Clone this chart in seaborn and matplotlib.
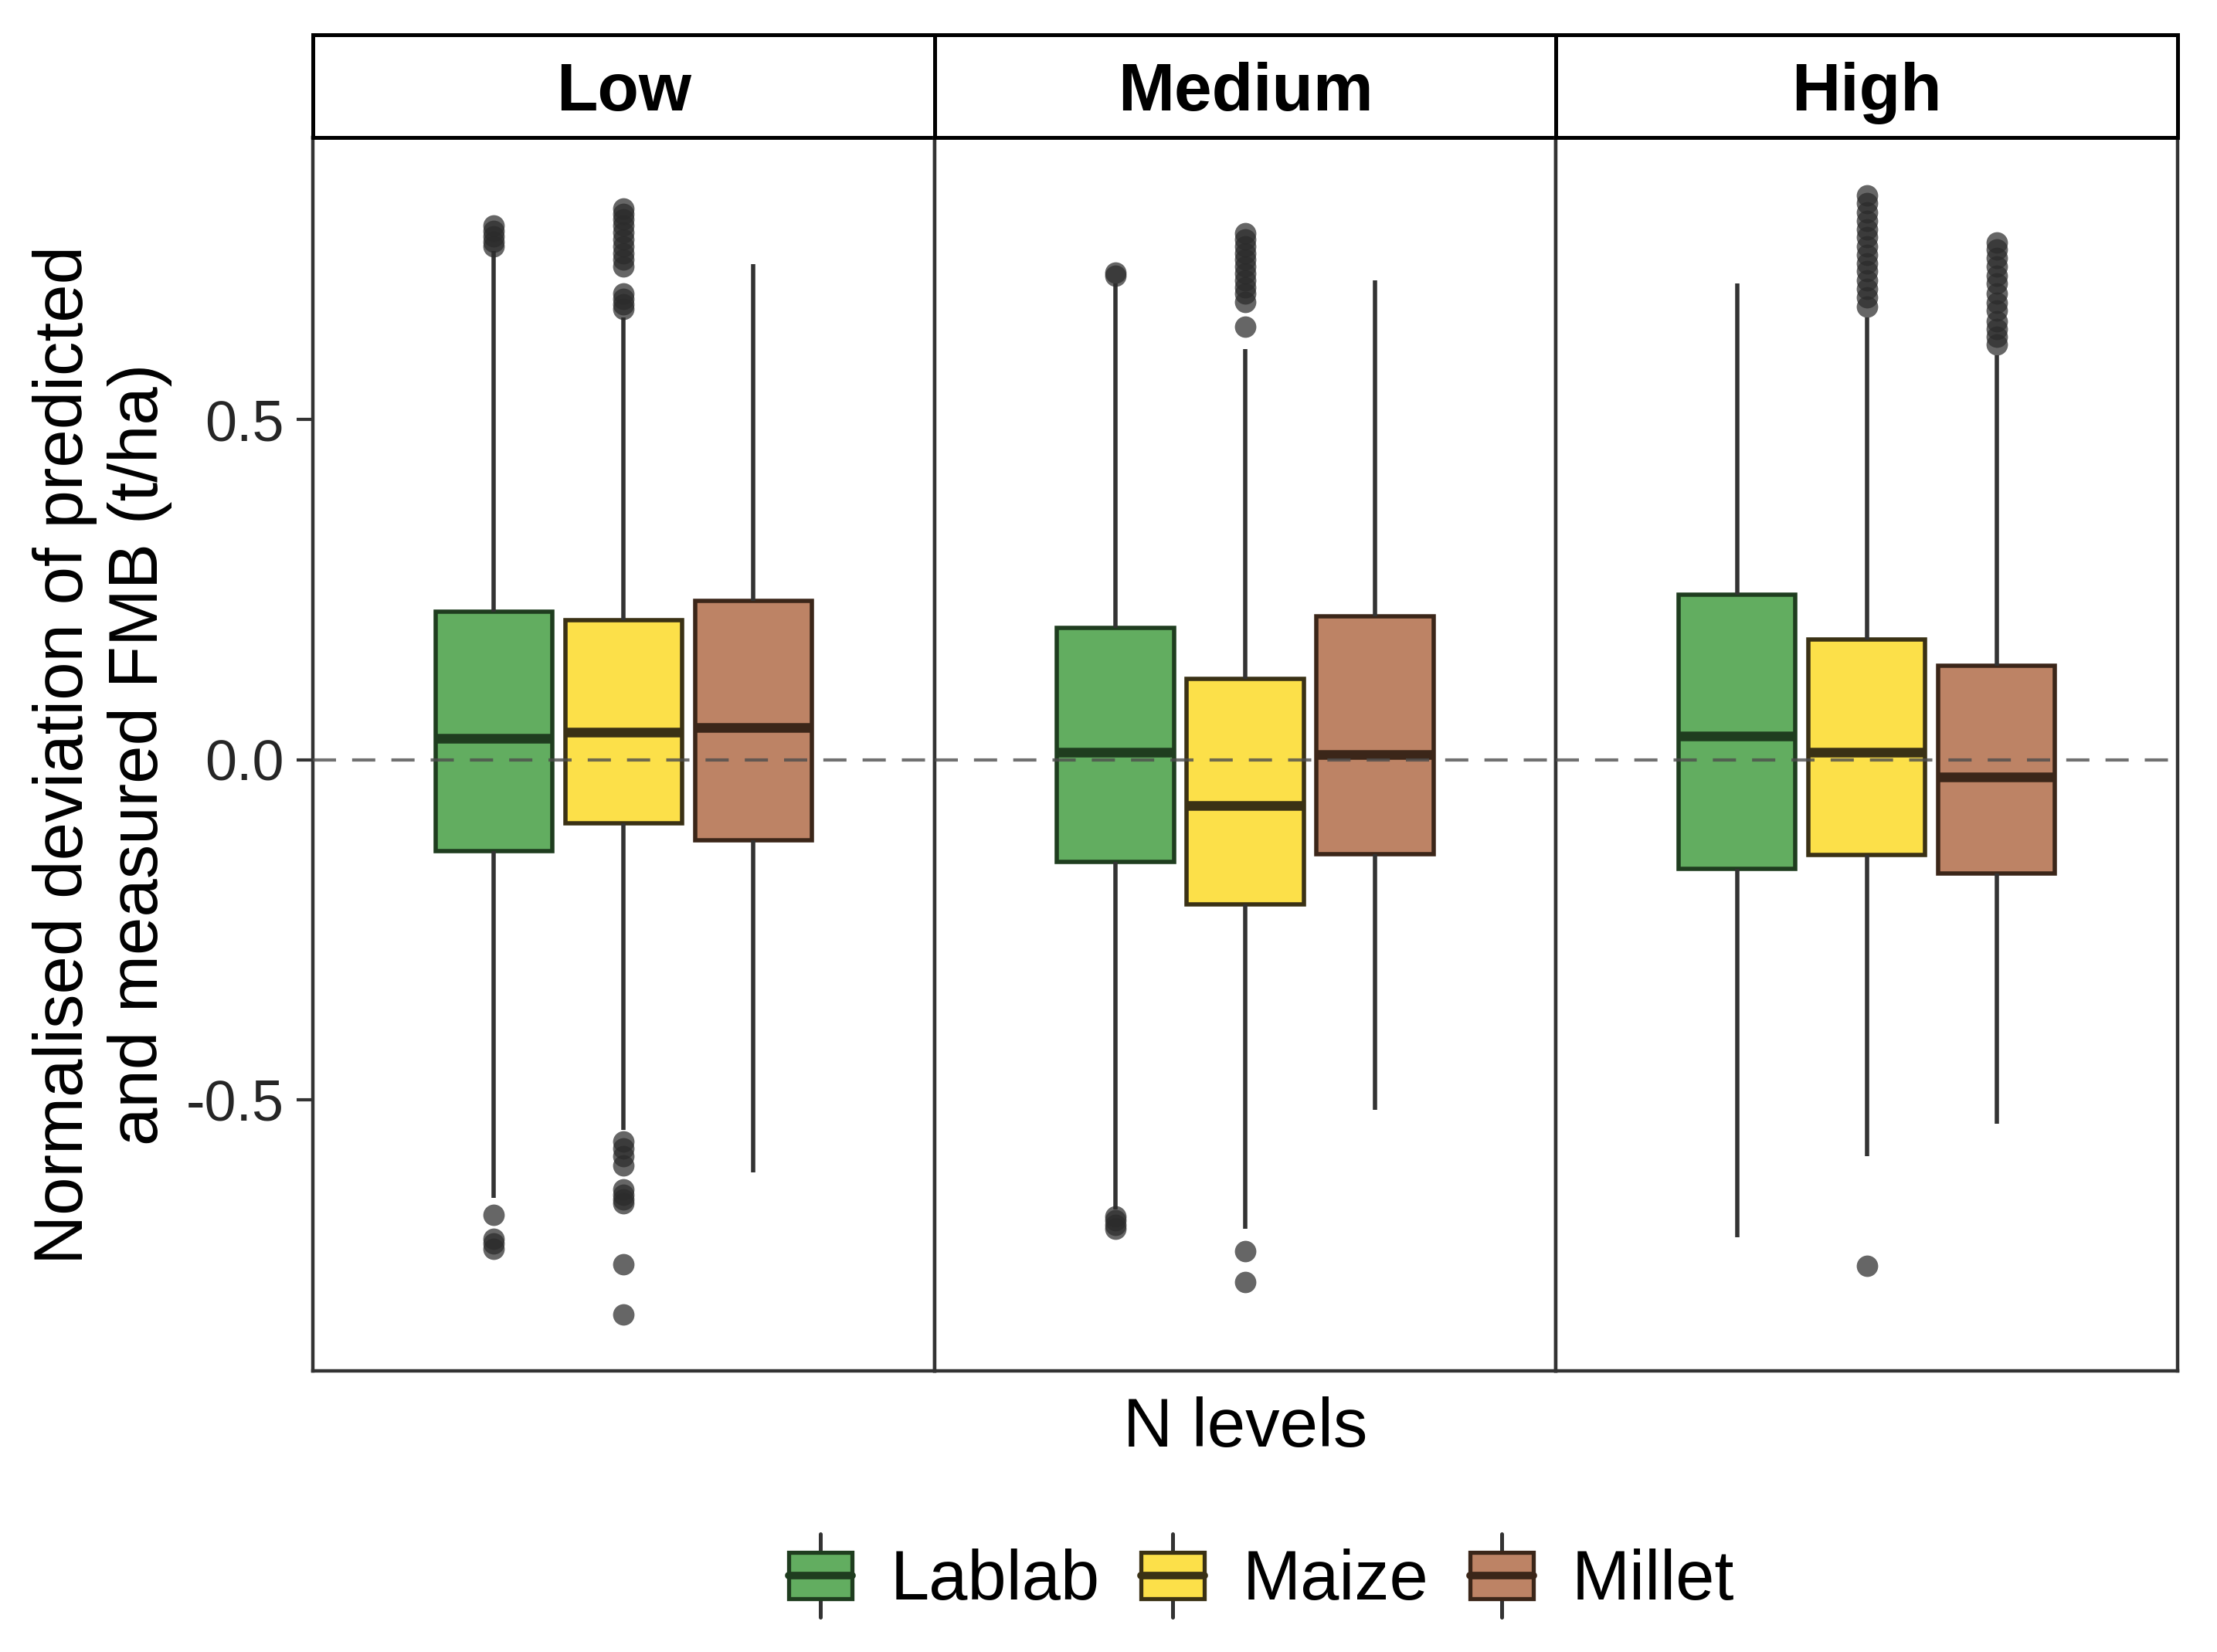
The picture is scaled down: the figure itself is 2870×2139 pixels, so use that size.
import matplotlib
matplotlib.use("Agg")

import matplotlib.pyplot as plt
import numpy as np
import pandas as pd
import seaborn as sns
from matplotlib.legend_handler import HandlerBase
from matplotlib.lines import Line2D
from matplotlib.patches import Patch, Rectangle

# Facets and crops
levels = ["Low", "Medium", "High"]
crops = ["Lablab", "Maize", "Millet"]

# Five-number summaries (rows = N level, cols = crop)
whisker_low = [[-0.644, -0.545, -0.607],
               [-0.662, -0.690, -0.515],
               [-0.703, -0.583, -0.535]]
q1 = [[-0.135, -0.094, -0.119],
      [-0.151, -0.213, -0.139],
      [-0.161, -0.140, -0.167]]
median = [[0.031, 0.040, 0.047],
          [0.011, -0.067, 0.008],
          [0.035, 0.011, -0.026]]
q3 = [[0.218, 0.205, 0.233],
      [0.194, 0.119, 0.211],
      [0.243, 0.177, 0.138]]
whisker_high = [[0.748, 0.650, 0.729],
                [0.700, 0.604, 0.705],
                [0.700, 0.650, 0.595]]

# Outlying points
outliers_low_lablab = [0.755, 0.762, 0.770, 0.778, 0.785, -0.670, -0.705, -0.712, -0.720]
outliers_low_maize = [0.663, 0.670, 0.678, 0.686, 0.725, 0.735, 0.745, 0.755, 0.765, 0.775,
                      0.785, 0.795, 0.803, 0.810, -0.562, -0.572, -0.583, -0.597, -0.632,
                      -0.640, -0.647, -0.653, -0.742, -0.816]
outliers_low_millet = []
outliers_medium_lablab = [0.712, 0.716, -0.672, -0.678, -0.684, -0.690]
outliers_medium_maize = [0.637, 0.673, 0.685, 0.695, 0.705, 0.715, 0.725, 0.735, 0.745, 0.755,
                         0.765, 0.774, -0.723, -0.768]
outliers_medium_millet = []
outliers_high_lablab = []
outliers_high_maize = [0.666, 0.680, 0.692, 0.705, 0.718, 0.730, 0.742, 0.755, 0.768, 0.780,
                       0.792, 0.805, 0.818, 0.830, -0.745]
outliers_high_millet = [0.611, 0.622, 0.633, 0.645, 0.660, 0.672, 0.685, 0.700, 0.712, 0.725,
                        0.738, 0.750, 0.761]

outliers = {
    ("Low", "Lablab"): outliers_low_lablab, ("Low", "Maize"): outliers_low_maize,
    ("Low", "Millet"): outliers_low_millet,
    ("Medium", "Lablab"): outliers_medium_lablab, ("Medium", "Maize"): outliers_medium_maize,
    ("Medium", "Millet"): outliers_medium_millet,
    ("High", "Lablab"): outliers_high_lablab, ("High", "Maize"): outliers_high_maize,
    ("High", "Millet"): outliers_high_millet,
}

# Colours
fills = {"Lablab": "#62AD60", "Maize": "#FCE049", "Millet": "#BD8365"}
edges = {"Lablab": "#1f3d1f", "Maize": "#3a3115", "Millet": "#3b2619"}
line_col = "#333333"


class BoxKey(HandlerBase):
    """Legend key drawn like a small boxplot"""

    def create_artists(self, legend, orig_handle, xdescent, ydescent, width, height, fontsize, trans):
        x0, y0 = -xdescent, -ydescent
        cx = x0 + width / 2
        cy = y0 + height / 2
        bh = fontsize * 0.66
        fc = orig_handle.get_facecolor()
        ec = orig_handle.get_edgecolor()
        whisk = Line2D([cx, cx], [cy - fontsize * 0.6, cy + fontsize * 0.6], color=line_col,
                       lw=1.8, transform=trans)
        box = Rectangle((x0, cy - bh / 2), width, bh, facecolor=fc, edgecolor=ec, lw=1.9,
                        transform=trans)
        med = Line2D([x0, x0 + width], [cy, cy], color=ec, lw=3.5, transform=trans)
        return [whisk, box, med]


def build_frames():
    # each box is described by its five summary values, so the quartiles come out exactly
    box_rows, out_rows = [], []
    for i, level in enumerate(levels):
        for j, crop in enumerate(crops):
            for v in [whisker_low[i][j], q1[i][j], median[i][j], q3[i][j], whisker_high[i][j]]:
                box_rows.append({"level": level, "crop": crop, "value": v})
            for v in outliers[(level, crop)]:
                out_rows.append({"level": level, "crop": crop, "value": v})
    return pd.DataFrame(box_rows), pd.DataFrame(out_rows)


if __name__ == '__main__':

    sns.set_theme(style="white")
    plt.rcParams["font.family"] = ["Liberation Sans", "DejaVu Sans"]
    plt.rcParams["text.color"] = "black"

    box_df, out_df = build_frames()

    W, H, DPI = 2870, 2139, 200
    fig = plt.figure(figsize=(W / DPI, H / DPI), dpi=DPI, facecolor="white")

    # Panel geometry in pixels
    left, right = 405, 2819
    strip_top, panel_top, panel_bottom = 45, 178, 1775
    pw = (right - left) / 3

    for i, level in enumerate(levels):
        x0 = left + i * pw
        ax = fig.add_axes([x0 / W, 1 - panel_bottom / H, pw / W, (panel_bottom - panel_top) / H])

        sub = box_df[box_df.level == level]
        sns.boxplot(data=sub, x="crop", y="value", hue="crop", order=crops, hue_order=crops,
                    palette=fills, saturation=1, width=0.9, whis=(0, 100), linecolor=line_col,
                    linewidth=2.0, legend=False, ax=ax,
                    medianprops=dict(linewidth=4.5), capprops=dict(visible=False))

        # Tint box outlines and medians like the original
        for patch in ax.patches:
            cx = np.mean(patch.get_path().vertices[:, 0])
            patch.set_edgecolor(edges[crops[int(round(cx))]])
        for ln in ax.lines:
            xd, yd = np.asarray(ln.get_xdata()), np.asarray(ln.get_ydata())
            if ln.get_visible() and len(xd) == 2 and yd[0] == yd[1] and xd[0] != xd[1]:
                ln.set_color(edges[crops[int(round(np.mean(xd)))]])

        # Outliers
        osub = out_df[out_df.level == level]
        sns.stripplot(data=osub, x="crop", y="value", order=crops, jitter=False,
                      color="#2b2b2b", alpha=0.72, size=10, linewidth=0, ax=ax, zorder=3)

        # Zero reference
        ax.axhline(0, color="#4d4d4d", linestyle=(0, (7.2, 5)), linewidth=1.5, alpha=0.8, zorder=4)

        ax.set_xlim(-1.393, 3.393)
        ax.set_ylim(-0.899, 0.915)
        ax.set_xticks([])
        ax.set_xlabel("")
        ax.set_ylabel("")
        ax.set_facecolor("white")
        for sp in ax.spines.values():
            sp.set_visible(True)
            sp.set_color(line_col)
            sp.set_linewidth(1.6)

        ax.set_yticks([-0.5, 0.0, 0.5])
        if i == 0:
            ax.set_yticklabels(["-0.5", "0.0", "0.5"])
            ax.tick_params(axis="y", left=True, length=7.5, width=1.5, color=line_col,
                           pad=6, labelsize=26.5, labelcolor="#262626")
        else:
            ax.tick_params(axis="y", left=False, labelleft=False)

        # Facet strip
        sax = fig.add_axes([x0 / W, 1 - panel_top / H, pw / W, (panel_top - strip_top) / H])
        sax.set_xticks([])
        sax.set_yticks([])
        sax.set_facecolor("white")
        for sp in sax.spines.values():
            sp.set_visible(True)
            sp.set_color("black")
            sp.set_linewidth(1.8)
        fig.text((x0 + pw / 2) / W, 1 - 143 / H, level, ha="center", va="baseline",
                 fontsize=31.5, fontweight="bold", color="black")

    # Axis titles
    fig.text(1612 / W, 1 - 1873 / H, "N levels", ha="center", va="baseline", fontsize=32)
    fig.text(133 / W, 1 - 977 / H,
             "Normalised deviation of predicted\nand measured FMB (t/ha)",
             rotation=90, ha="center", va="center", fontsize=32, linespacing=1.2)

    # Legend at the bottom
    handles = [Patch(facecolor=fills[c], edgecolor=edges[c]) for c in crops]
    leg = fig.legend(handles, crops, loc="center", bbox_to_anchor=(1633 / W, 1 - 2045 / H),
                     ncol=3, frameon=False, fontsize=32.5, handler_map={Patch: BoxKey()},
                     handlelength=0.9, handleheight=1.0, handletextpad=0.55, columnspacing=0.6)
    for t in leg.get_texts():
        t.set_color("black")

    fig.savefig("out.png", dpi=DPI, facecolor="white")
